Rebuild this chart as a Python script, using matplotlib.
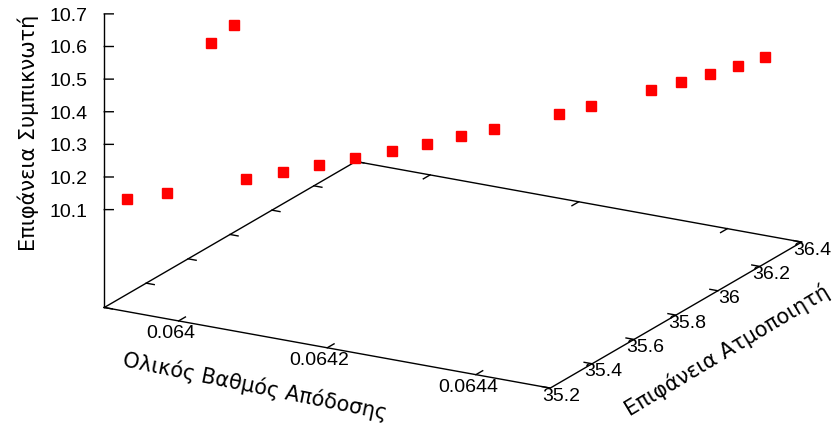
import numpy as np
import matplotlib
matplotlib.use("Agg")
import matplotlib.pyplot as plt
from matplotlib import transforms

# ---------------- data ----------------
x_vals = [0.0639137, 0.0639519, 0.0639947, 0.0640074, 0.0640249, 0.0640587,
          0.0640925, 0.0641249, 0.0641574, 0.0641885, 0.0642182, 0.0642466,
          0.0643021, 0.0643292, 0.0643779, 0.0644023, 0.0644253, 0.0644470,
          0.0644673]
y_vals = [35.260, 35.317, 35.374, 35.440, 35.431, 35.488, 35.544, 35.601,
          35.658, 35.715, 35.772, 35.829, 35.943, 35.999, 36.113, 36.170,
          36.227, 36.284, 36.341]
z_vals = [10.115, 10.128, 10.584, 10.622, 10.158, 10.172, 10.188, 10.200,
          10.214, 10.227, 10.243, 10.255, 10.281, 10.295, 10.322, 10.336,
          10.348, 10.361, 10.375]

x_ticks = [0.064, 0.0642, 0.0644]
x_ticklabels = ["0.064", "0.0642", "0.0644"]
y_ticks = [35.2, 35.4, 35.6, 35.8, 36.0, 36.2, 36.4]
y_ticklabels = ["35.2", "35.4", "35.6", "35.8", "36", "36.2", "36.4"]
z_ticks = [10.1, 10.2, 10.3, 10.4, 10.5, 10.6, 10.7]
z_ticklabels = ["10.1", "10.2", "10.3", "10.4", "10.5", "10.6", "10.7"]

x_title = "Ολικός Βαθμός Απόδοσης"
y_title = "Επιφάνεια Ατμοποιητή"
z_title = "Επιφάνεια Συμπικνωτή"

x_range = (0.0639, 0.0645)
y_range = (35.2, 36.4)
z_range = (10.1, 10.7)
ticslevel = 0.5

# ---------------- figure ----------------
W, H = 837, 427
fig = plt.figure(figsize=(W / 100, H / 100), dpi=100)
ax = fig.add_axes([0, 0, 1, 1], projection="3d")
ax.set_proj_type("ortho")
ax.view_init(elev=18.9, azim=-60.84)
ax.set_box_aspect((510.1, 515.6, 310.0))
x0, x1 = x_range
y0, y1 = y_range
zb = z_range[0] - ticslevel * (z_range[1] - z_range[0])
z1 = z_range[1]
ax.set_xlim(x0, x1)
ax.set_ylim(y0, y1)
ax.set_zlim(zb, z1)
ax.set_axis_off()
ax.computed_zorder = False

M = ax.get_proj()


def proj(xs, ys, zs):
    xs = np.atleast_1d(np.asarray(xs, dtype=float))
    ys = np.atleast_1d(np.asarray(ys, dtype=float))
    zs = np.atleast_1d(np.asarray(zs, dtype=float))
    v = M @ np.vstack([xs, ys, zs, np.ones_like(xs)])
    return v[0] / v[3], v[1] / v[3]


# fit the square 3D axes so that the box corners land where the gnuplot ones are
px2, py2 = proj([x0, x1, x1, x0, x0], [y0, y0, y1, y1, y0], [zb, zb, zb, zb, z1])
fr = ax.transLimits.transform(np.column_stack([px2, py2]))
tgt = np.array([[103.3, 308.3], [552.0, 389.0], [800.0, 243.0],
                [357.7, 162.7], [103.3, 15.0]])
tgt[:, 1] = H - tgt[:, 1]
A = []
b = []
for (fx, fy), (px, py) in zip(fr, tgt):
    A.append([1, 0, fx]); b.append(px)
    A.append([0, 1, fy]); b.append(py)
X0, Y0, S = np.linalg.lstsq(np.array(A), np.array(b), rcond=None)[0]
ax.set_position([X0 / W, Y0 / H, S / W, S / H])

lc = "black"
lw = 1.0
# base border
ax.plot([x0, x1, x1, x0, x0], [y0, y0, y1, y1, y0], [zb] * 5, color=lc, lw=lw, zorder=2)
# vertical z axis
ax.plot([x0, x0], [y0, y0], [zb, z1], color=lc, lw=lw, zorder=2)

xr = x1 - x0
yr = y1 - y0
tly = 0.027 * yr
tlx = 0.018 * xr
for t in x_ticks:
    ax.plot([t, t], [y0, y0 + tly], [zb, zb], color=lc, lw=lw, zorder=2)
    ax.plot([t, t], [y1, y1 - tly], [zb, zb], color=lc, lw=lw, zorder=2)
for t in y_ticks:
    ax.plot([x1, x1 - tlx], [t, t], [zb, zb], color=lc, lw=lw, zorder=2)
    ax.plot([x0, x0 + tlx], [t, t], [zb, zb], color=lc, lw=lw, zorder=2)
for t in z_ticks:
    ax.plot([x0, x0 + 0.0154 * xr], [y0, y0 + 0.0085 * yr], [t, t], color=lc, lw=lw, zorder=2)

tick_font = ["Liberation Sans", "DejaVu Sans"]
tfs = 14


def off(dx, dy):
    return transforms.offset_copy(ax.transData, fig=fig, x=dx, y=dy, units="dots")


# tick labels placed at the projected tick positions
for t, s in zip(z_ticks, z_ticklabels):
    qx, qy = proj(x0, y0, t)
    ax.text2D(qx[0], qy[0], s, ha="right", va="center", fontsize=tfs, family=tick_font,
              transform=off(-17, -1.5))
for t, s in zip(x_ticks, x_ticklabels):
    qx, qy = proj(t, y0, zb)
    ax.text2D(qx[0], qy[0], s, ha="center", va="center", fontsize=tfs, family=tick_font,
              transform=off(-8, -11.5))
for t, s in zip(y_ticks, y_ticklabels):
    qx, qy = proj(x1, t, zb)
    ax.text2D(qx[0], qy[0], s, ha="center", va="center", fontsize=tfs, family=tick_font,
              transform=off(11, -7))

# data points
ax.plot(x_vals, y_vals, z_vals, linestyle="none", marker="s", markersize=6.5,
        color="#ff0000", markeredgecolor="#ff0000", zorder=5)

# axis titles
title_font = ["DejaVu Sans"]
fig.text(28 / W, 1 - 133 / H, z_title, rotation=90, ha="center", va="center",
         fontsize=15, family=title_font)
fig.text(255 / W, 1 - 386 / H, x_title, rotation=-11.5, ha="center", va="center",
         fontsize=15, family=title_font, rotation_mode="anchor")
fig.text(727 / W, 1 - 350 / H, y_title, rotation=31, ha="center", va="center",
         fontsize=15, family=title_font, rotation_mode="anchor")

fig.savefig("out.png", dpi=100)
